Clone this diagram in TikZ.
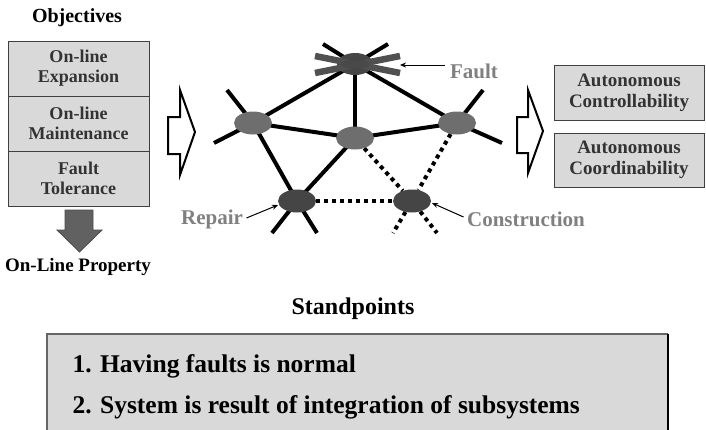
\documentclass[tikz,border=0pt]{standalone}
\usepackage{fontspec}
\setmainfont{Liberation Serif}
\usetikzlibrary{backgrounds,arrows.meta,shapes.geometric}
\definecolor{boxfill}{HTML}{D9D9D9}
\definecolor{boxline}{HTML}{404040}
\definecolor{lightnode}{HTML}{6E6E6E}
\definecolor{darknode}{HTML}{454545}
\definecolor{labelgray}{HTML}{808080}
\definecolor{barcolor}{HTML}{505050}
\begin{document}
\begin{tikzpicture}[x=1pt,y=-1pt,
  objbox/.style={draw=boxline, line width=0.8pt, fill=boxfill, align=center, inner sep=0pt,
     font=\fontsize{18}{20}\selectfont\bfseries, text=black!80},
  netnode/.style={ellipse, minimum width=38pt, minimum height=23pt, inner sep=0pt},
  edge/.style={line width=4pt},
  dotedge/.style={line width=4pt, dash pattern=on 4pt off 4pt},
  hollow/.style={draw=black, line width=2pt, fill=white, line join=miter},
  lbl/.style={font=\fontsize{21}{24}\selectfont\bfseries, text=labelgray},
  pointer/.style={-{Stealth[length=6pt,width=5pt]}, line width=1pt},
  faultbar/.style={line width=6.5pt, draw=barcolor},
]
\useasboundingbox (0,0) rectangle (706,429);

% ---------- Objectives ----------
\node[font=\fontsize{20}{22}\selectfont\bfseries] (objt) at (77,18) {Objectives};
\node[objbox, minimum width=141pt, minimum height=55pt] (o1) at (78.5,68.5) {On-line\\Expansion};
\node[objbox, minimum width=141pt, minimum height=55pt] (o2) at (78.5,123.5) {On-line\\Maintenance};
\node[objbox, minimum width=141pt, minimum height=55pt] (o3) at (78.5,178.5) {Fault\\Tolerance};
\draw[fill=black!62, draw=black!70, line width=0.8pt]
  (65,210) -- (93,210) -- (93,230) -- (102,230) -- (79.5,252) -- (57,230) -- (65,230) -- cycle;
\node[font=\fontsize{19}{21}\selectfont\bfseries] (olp) at (78,267) {On-Line Property};

% ---------- hollow arrows ----------
\draw[hollow] (168,117) -- (180,117) -- (180,90) -- (195,132) -- (180,175) -- (180,154) -- (168,154) -- cycle;
\draw[hollow] (517,117) -- (528,117) -- (528,90) -- (543,131) -- (528,173) -- (528,153) -- (517,153) -- cycle;

% ---------- network ----------
\node[netnode, fill=darknode, minimum width=36pt, minimum height=22pt] (nf) at (355,64) {};
\node[netnode, fill=lightnode] (nl) at (253,123) {};
\node[netnode, fill=lightnode] (nm) at (355,138) {};
\node[netnode, fill=lightnode] (nr) at (457,123) {};
\node[netnode, fill=darknode] (np) at (297,201) {};
\node[netnode, fill=darknode] (nc) at (412,201) {};

\coordinate (sf1) at (323,44);
\coordinate (sf2) at (388,44);
\coordinate (sl1) at (227,90);
\coordinate (sl2) at (214,143);
\coordinate (sr1) at (483,90);
\coordinate (sr2) at (502,143);
\coordinate (sp1) at (272,233);
\coordinate (sp2) at (317,233);
\coordinate (sc1) at (393,233);
\coordinate (sc2) at (437,233);

\begin{pgfonlayer}{background}
  \draw[edge] (nf.center) -- (nl.center);
  \draw[edge] (nf.center) -- (nm.center);
  \draw[edge] (nf.center) -- (nr.center);
  \draw[edge] (nl.center) -- (nm.center);
  \draw[edge] (nm.center) -- (nr.center);
  \draw[edge] (nl.center) -- (np.center);
  \draw[edge] (nm.center) -- (np.center);
  \draw[dotedge] (nm) -- (nc);
  \draw[dotedge] (nr) -- (nc);
  \draw[dotedge] (np) -- (nc);
  \draw[edge] (nf.center) -- (sf1);
  \draw[edge] (nf.center) -- (sf2);
  \draw[edge] (nl.center) -- (sl1);
  \draw[edge] (nl.center) -- (sl2);
  \draw[edge] (nr.center) -- (sr1);
  \draw[edge] (nr.center) -- (sr2);
  \draw[edge] (np.center) -- (sp1);
  \draw[edge] (np.center) -- (sp2);
  \draw[dotedge] (nc) -- (sc1);
  \draw[dotedge] (nc) -- (sc2);
\end{pgfonlayer}

% fault bars
\coordinate (fb1) at (315,56);
\coordinate (fb2) at (400,73);
\coordinate (fb3) at (315,73);
\coordinate (fb4) at (400,56);
\draw[faultbar] (fb1) -- (fb2);
\draw[faultbar] (fb3) -- (fb4);
\fill[darknode, opacity=0.6] (nf.center) ellipse [x radius=14pt, y radius=5pt];

% labels
\node[lbl] (lf) at (474,71) {Fault};
\node[lbl] (lr) at (212,219) {Repair};
\node[lbl] (lc) at (526,219) {Construction};
\draw[pointer] (lf.west) ++(-2,-6) coordinate (lfa) -- (400,65);
\draw[pointer] (lr.east) ++(0,-1) -- (278,205);
\draw[pointer] (lc.west) ++(0,-2) -- (432,203);

% ---------- right boxes ----------
\node[objbox, minimum width=150pt, minimum height=55pt, font=\fontsize{19}{21}\selectfont\bfseries] (a1) at (629,92.5) {Autonomous\\Controllability};
\node[objbox, minimum width=150pt, minimum height=54pt, font=\fontsize{19}{21}\selectfont\bfseries] (a2) at (629,160) {Autonomous\\Coordinability};

% ---------- standpoints ----------
\node[font=\fontsize{24}{26}\selectfont\bfseries] (st) at (353,309) {Standpoints};
\fill[boxfill] (47,334) rectangle (668,440);
\draw[draw=black!60, line width=1.2pt] (47,440) -- (47,334) -- (668,334);
\draw[draw=black, line width=1.5pt] (668,334) -- (668,440);
\node[anchor=base west, font=\fontsize{25.5}{28}\selectfont\bfseries] (s1) at (69,372) {1. Having faults is normal};
\node[anchor=base west, font=\fontsize{25.5}{28}\selectfont\bfseries] (s2) at (69,413) {2. System is result of integration of subsystems};
\end{tikzpicture}
\end{document}
